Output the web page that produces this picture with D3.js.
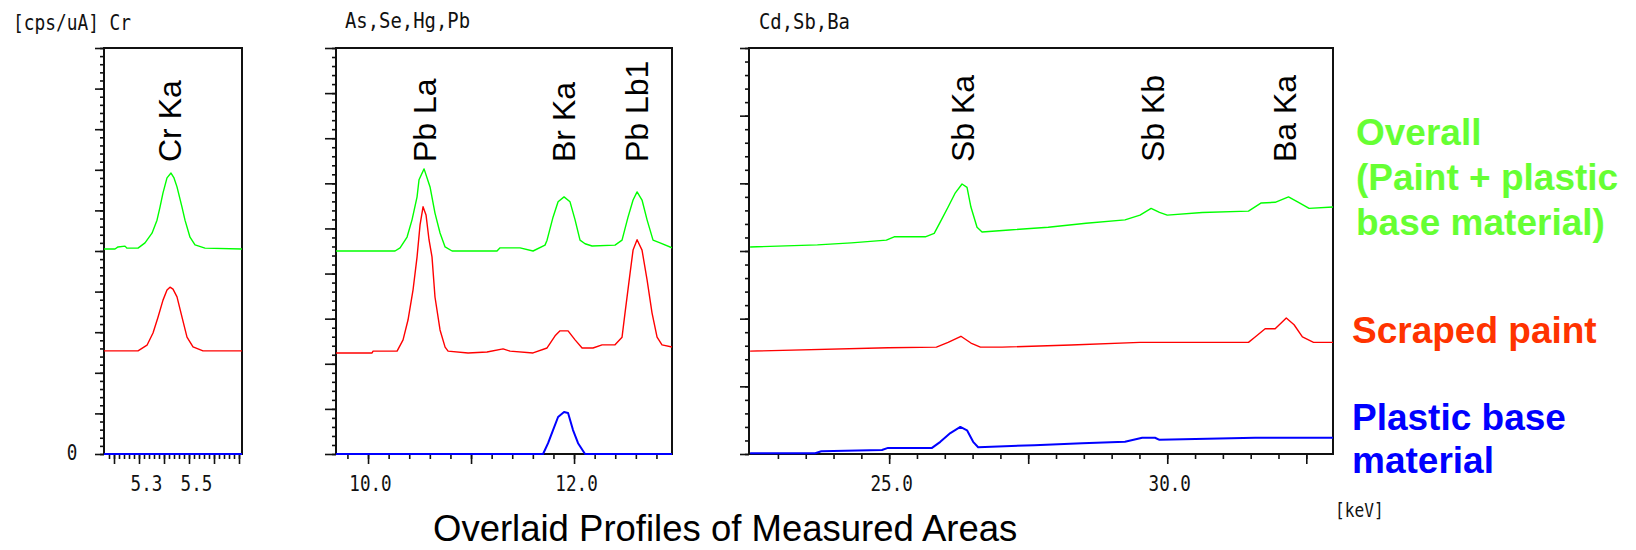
<!DOCTYPE html>
<html><head><meta charset="utf-8">
<script src="https://cdn.jsdelivr.net/npm/d3@7"></script>
<style>body{margin:0;background:#fff}svg{display:block}</style>
</head><body>
<svg id="chart" width="1636" height="550"></svg>
<script>
// ---------------- DATA ----------------
// Panel 1: Cr region  [keV, intensity (tick units)]
const crOverall = [[5.160,5.05],[5.204,5.05],[5.216,5.10],[5.244,5.12],[5.252,5.07],[5.296,5.07],[5.324,5.20],[5.352,5.44],[5.372,5.76],[5.384,6.08],[5.396,6.43],[5.412,6.80],[5.428,6.92],[5.440,6.80],[5.452,6.58],[5.472,6.08],[5.484,5.76],[5.504,5.34],[5.524,5.15],[5.564,5.07],[5.712,5.05]];
const crPaint = [[5.160,2.54],[5.296,2.54],[5.332,2.68],[5.356,2.98],[5.376,3.37],[5.396,3.79],[5.412,4.04],[5.424,4.11],[5.436,4.06],[5.452,3.87],[5.472,3.37],[5.492,2.88],[5.516,2.64],[5.556,2.54],[5.712,2.54]];
const crBase = [[5.160,0],[5.712,0]];

// Panel 2: As, Se, Hg, Pb region
const pbOverall = [[9.689,4.50],[10.262,4.50],[10.311,4.57],[10.379,4.81],[10.427,5.19],[10.476,5.70],[10.495,6.08],[10.544,6.32],[10.602,5.92],[10.650,5.34],[10.699,4.90],[10.748,4.59],[10.816,4.50],[11.252,4.50],[11.282,4.57],[11.476,4.57],[11.602,4.50],[11.718,4.63],[11.738,4.74],[11.796,5.25],[11.845,5.59],[11.903,5.70],[11.961,5.59],[12.010,5.19],[12.058,4.74],[12.107,4.66],[12.175,4.61],[12.398,4.63],[12.466,4.74],[12.524,5.25],[12.573,5.63],[12.612,5.81],[12.660,5.63],[12.709,5.19],[12.767,4.74],[12.835,4.68],[12.951,4.57]];
const pbPaint = [[9.689,2.24],[10.039,2.24],[10.049,2.28],[10.282,2.28],[10.340,2.53],[10.388,2.97],[10.437,3.64],[10.476,4.37],[10.505,5.08],[10.534,5.48],[10.563,5.30],[10.592,4.75],[10.621,4.37],[10.650,3.48],[10.699,2.75],[10.748,2.37],[10.777,2.28],[10.971,2.24],[11.155,2.26],[11.311,2.33],[11.379,2.28],[11.602,2.24],[11.738,2.35],[11.816,2.62],[11.864,2.73],[11.942,2.73],[12.010,2.53],[12.078,2.35],[12.184,2.35],[12.272,2.42],[12.398,2.42],[12.466,2.59],[12.495,3.13],[12.544,4.01],[12.573,4.52],[12.612,4.75],[12.660,4.52],[12.709,3.86],[12.757,3.13],[12.806,2.59],[12.854,2.42],[12.951,2.37]];
const pbBase = [[9.689,0],[11.699,0],[11.748,0.24],[11.796,0.53],[11.845,0.82],[11.903,0.93],[11.942,0.91],[11.990,0.53],[12.039,0.24],[12.107,0],[12.951,0]];

// Panel 3: Cd, Sb, Ba region
const sbOverall = [[22.50,3.06],[23.71,3.09],[24.32,3.12],[24.95,3.16],[25.09,3.21],[25.65,3.21],[25.81,3.26],[25.92,3.43],[26.06,3.65],[26.19,3.86],[26.31,3.99],[26.40,3.94],[26.47,3.65],[26.58,3.35],[26.67,3.28],[27.16,3.31],[27.86,3.35],[28.54,3.41],[29.24,3.46],[29.51,3.53],[29.71,3.63],[29.86,3.57],[30.00,3.53],[30.63,3.57],[31.46,3.59],[31.69,3.71],[31.94,3.72],[32.18,3.80],[32.36,3.72],[32.55,3.63],[32.98,3.65]];
const sbPaint = [[22.50,1.52],[24.98,1.57],[25.85,1.58],[26.06,1.65],[26.29,1.74],[26.47,1.64],[26.64,1.58],[27.03,1.58],[28.27,1.61],[29.51,1.65],[31.46,1.65],[31.58,1.73],[31.76,1.85],[31.94,1.85],[32.14,2.01],[32.28,1.91],[32.43,1.73],[32.63,1.65],[32.98,1.65]];
const sbBase = [[22.50,0.01],[23.67,0.01],[23.78,0.04],[24.87,0.06],[24.98,0.09],[25.77,0.09],[25.92,0.18],[26.10,0.31],[26.28,0.40],[26.40,0.35],[26.51,0.18],[26.60,0.10],[27.61,0.13],[28.47,0.16],[29.24,0.18],[29.55,0.24],[29.78,0.24],[29.86,0.21],[31.58,0.24],[32.98,0.24]];

// Peak labels [name, keV]
const crLines = [["Cr Ka",5.42]];
const pbLines = [["Pb La",10.55],["Br Ka",11.90],["Pb Lb1",12.61]];
const sbLines = [["Sb Ka",26.32],["Sb Kb",29.73],["Ba Ka",32.10]];

// Axis tick labels
const crTickLabels = [5.3, 5.5];
const pbTickLabels = [10.0, 12.0];
const sbTickLabels = [25.0, 30.0];
const crMajor = [5.2,5.3,5.4,5.5,5.6,5.7];
const pbMajor = [10,11,12];
const sbMajor = [25,27.5,30,32.5];

const panelTitles = ["[cps/uA] Cr", "As,Se,Hg,Pb", "Cd,Sb,Ba"];
const seriesNames = ["Overall\n(Paint + plastic\nbase material)", "Scraped paint", "Plastic base\nmaterial"];
const chartTitle = "Overlaid Profiles of Measured Areas";
const unitLabel = "[keV]";
const zeroLabel = "0";

// ---------------- LAYOUT ----------------
const svg = d3.select("#chart");
const TOP = 48, BOTTOM = 454;
const COLORS = {overall:"#00ff00", paint:"#ff0000", base:"#0000ff"};
const MONO = "'DejaVu Sans Mono', 'Liberation Mono', monospace";
const SANS = "'Liberation Sans', Arial, sans-serif";

const panels = [
  {left:104, right:242, xDom:[5.16,5.712], yMax:10, series:[crOverall,crPaint,crBase], lines:crLines,
   major:crMajor, labels:crTickLabels, minor:d3.range(5.18,5.712,0.02), fmt:d3.format(".1f"), labelDx:7, ytick:9},
  {left:336, right:672, xDom:[9.689,12.951], yMax:9, series:[pbOverall,pbPaint,pbBase], lines:pbLines,
   major:pbMajor, labels:pbTickLabels, minor:d3.range(9.8,12.95,0.2), fmt:d3.format(".1f"), labelDx:2, ytick:11},
  {left:749, right:1333, xDom:[22.48,32.98], yMax:6, series:[sbOverall,sbPaint,sbBase], lines:sbLines,
   major:sbMajor, labels:sbTickLabels, minor:d3.range(23,33,0.5), fmt:d3.format(".1f"), labelDx:2, ytick:9}
];
const seriesColors = [COLORS.overall, COLORS.paint, COLORS.base];

function monoText(x, y, str, size, sx, anchor) {
  svg.append("text")
    .attr("transform", `translate(${x},${y}) scale(${sx},1)`)
    .attr("font-family", MONO).attr("font-size", size)
    .attr("text-anchor", anchor || "start").attr("fill", "#111")
    .text(str);
}

panels.forEach((p, i) => {
  const x = d3.scaleLinear().domain(p.xDom).range([p.left, p.right]);
  const y = d3.scaleLinear().domain([0, p.yMax]).range([BOTTOM, TOP]);
  const g = svg.append("g");

  const clipId = "clip" + i;
  svg.append("clipPath").attr("id", clipId).append("rect")
    .attr("x", p.left).attr("y", TOP - 2).attr("width", p.right - p.left).attr("height", BOTTOM - TOP + 4);

  const tickStyle = sel => {
    sel.select(".domain").remove();
    sel.selectAll(".tick line").attr("stroke", "#111").attr("stroke-width", 1.6);
  };
  g.append("g").attr("transform", `translate(0,${BOTTOM})`)
    .call(d3.axisBottom(x).tickValues(p.minor).tickSize(5).tickFormat(""))
    .call(tickStyle);
  const bx = g.append("g").attr("transform", `translate(0,${BOTTOM})`)
    .call(d3.axisBottom(x).tickValues(p.major).tickSize(10).tickPadding(11)
      .tickFormat(d => p.labels.some(l => Math.abs(l - d) < 1e-9) ? p.fmt(d) : ""))
    .call(tickStyle);
  bx.selectAll(".tick text")
    .attr("font-family", MONO).attr("font-size", 22).attr("fill", "#111")
    .attr("transform", `translate(${p.labelDx},0) scale(0.8,1)`);

  g.append("g").attr("transform", `translate(${p.left},0)`)
    .call(d3.axisLeft(y).tickValues(d3.range(0, p.yMax + 1e-9, 0.2)).tickSize(4).tickFormat(""))
    .call(tickStyle);
  g.append("g").attr("transform", `translate(${p.left},0)`)
    .call(d3.axisLeft(y).tickValues(d3.range(0, p.yMax + 1, 1)).tickSize(p.ytick).tickFormat(""))
    .call(tickStyle);

  g.append("rect").attr("x", p.left).attr("y", TOP)
    .attr("width", p.right - p.left).attr("height", BOTTOM - TOP)
    .attr("fill", "none").attr("stroke", "#111").attr("stroke-width", 2);

  const line = d3.line().x(d => x(d[0])).y(d => y(d[1]));
  p.series.forEach((s, k) => {
    g.append("path").datum(s).attr("d", line)
      .attr("clip-path", `url(#${clipId})`)
      .attr("fill", "none").attr("stroke", seriesColors[k])
      .attr("stroke-width", k === 2 ? 2 : 1.4).attr("stroke-linejoin", "round");
  });

  p.lines.forEach(([name, e]) => {
    g.append("text")
      .attr("transform", `translate(${x(e) + 11.5},162) rotate(-90)`)
      .attr("font-family", SANS).attr("font-size", 32).attr("fill", "#000")
      .text(name);
  });
});

monoText(13, 30, panelTitles[0], 21, 0.85);
monoText(345, 28, panelTitles[1], 21, 0.9);
monoText(759, 29, panelTitles[2], 21, 0.9);
monoText(72, 460, zeroLabel, 22, 0.8, "middle");
monoText(1335, 517, unitLabel, 19, 0.85);

const legend = [
  {lines: seriesNames[0].split("\n"), x:1356, y:145, dy:45, color:"#66ff33"},
  {lines: seriesNames[1].split("\n"), x:1352, y:343, dy:45, color:"#ff3300"},
  {lines: seriesNames[2].split("\n"), x:1352, y:430, dy:43, color:"#0000ff"}
];
legend.forEach(L => {
  const t = svg.append("text").attr("font-family", SANS).attr("font-weight", "bold")
    .attr("font-size", 37).attr("fill", L.color);
  L.lines.forEach((s, j) => t.append("tspan").attr("x", L.x).attr("y", L.y + j * L.dy).text(s));
});

svg.append("text").attr("x", 433).attr("y", 541)
  .attr("font-family", SANS).attr("font-size", 36.5).attr("fill", "#000")
  .text(chartTitle);
</script>
</body></html>
